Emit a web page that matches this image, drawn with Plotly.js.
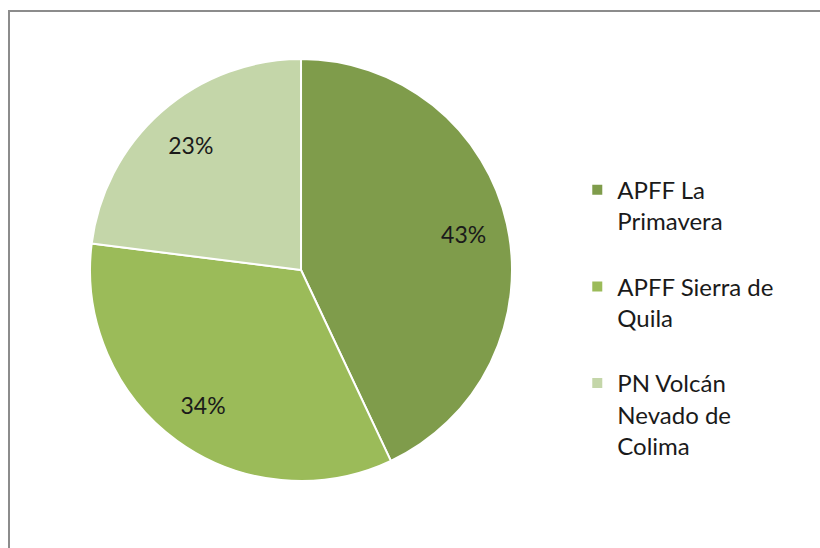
<!DOCTYPE html>
<html>
<head>
<meta charset="utf-8">
<script src="https://cdn.plot.ly/plotly-3.0.1.min.js"></script>
<style>
  html, body { margin: 0; padding: 0; background: #ffffff; }
  #wrap { position: relative; width: 820px; height: 548px; overflow: hidden; }
  #frame { position: absolute; left: 8px; top: 10px; width: 830px; height: 560px;
           border: 2px solid #8c8c8c; box-sizing: border-box; pointer-events: none; }
  #chart { position: absolute; left: 0; top: 0; width: 820px; height: 548px; }
</style>
</head>
<body>
<div id="wrap">
  <div id="chart"></div>
  <div id="frame"></div>
</div>
<script>
const categories = ['APFF La<br>Primavera<br> ', 'APFF Sierra de<br>Quila<br> ', 'PN Volcán<br>Nevado de<br>Colima'];
const shares = [43, 34, 23];
const sliceColors = ['#7f9c4b', '#9bbb59', '#c4d6a9'];

const fontFam = 'Lato, "Open Sans", sans-serif';
const pieDomain = { x: [0.1098, 0.6244], y: [0.1223, 0.8923] };

const slices = {
  type: 'pie',
  labels: categories,
  values: shares,
  sort: false,
  direction: 'clockwise',
  rotation: 0,
  textinfo: 'none',
  marker: { colors: sliceColors, line: { color: '#ffffff', width: 2 } },
  domain: pieDomain,
  hoverinfo: 'label+percent'
};

// transparent ring that carries the percentage labels near the outer rim
const labelRing = {
  type: 'pie',
  labels: categories,
  values: shares,
  sort: false,
  direction: 'clockwise',
  rotation: 0,
  hole: 0.58,
  showlegend: false,
  texttemplate: '%{percent:.0%}',
  textposition: 'inside',
  insidetextorientation: 'horizontal',
  textfont: { family: fontFam, size: 23, color: '#1a1a1a' },
  insidetextfont: { family: fontFam, size: 23, color: '#1a1a1a' },
  marker: { colors: ['rgba(0,0,0,0)', 'rgba(0,0,0,0)', 'rgba(0,0,0,0)'], line: { width: 0 } },
  domain: pieDomain,
  hoverinfo: 'skip'
};

const layout = {
  width: 820,
  height: 548,
  margin: { l: 0, r: 0, t: 0, b: 0 },
  paper_bgcolor: 'rgba(0,0,0,0)',
  plot_bgcolor: 'rgba(0,0,0,0)',
  showlegend: true,
  legend: {
    x: 0.704, y: 0.694, xanchor: 'left', yanchor: 'top',
    font: { family: fontFam, size: 24, color: '#1a1a1a' },
    valign: 'top',
    bgcolor: 'rgba(0,0,0,0)'
  }
};

Plotly.newPlot('chart', [slices, labelRing], layout, { displayModeBar: false, staticPlot: true });
</script>
</body>
</html>
